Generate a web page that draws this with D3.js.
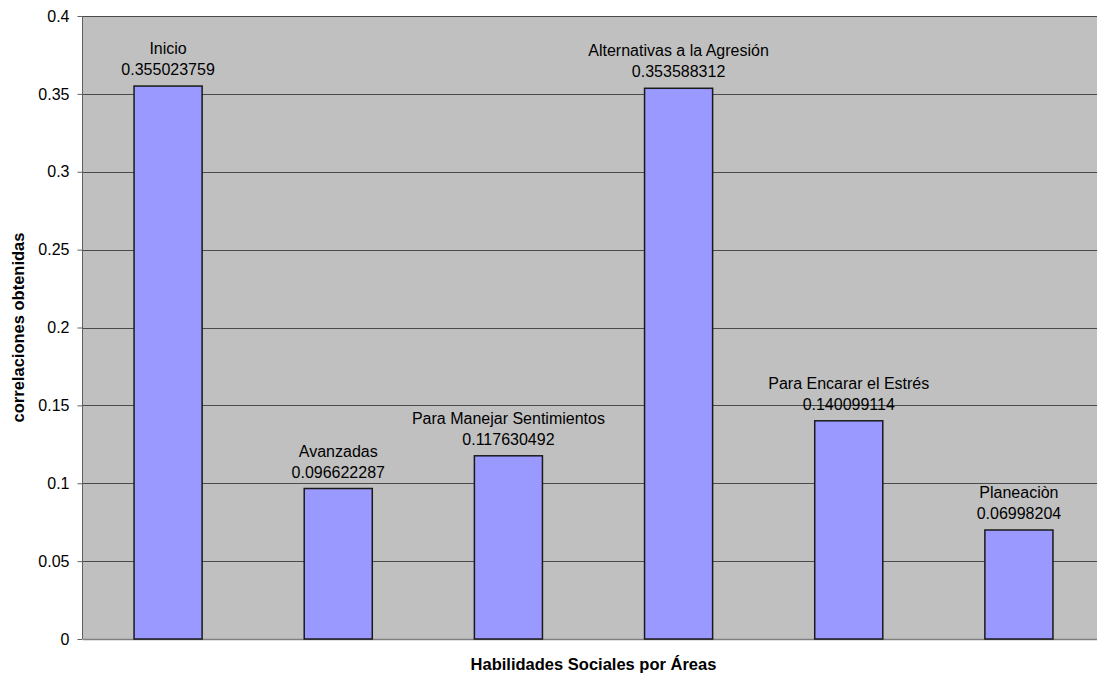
<!DOCTYPE html>
<html>
<head>
<meta charset="utf-8">
<script src="https://cdn.jsdelivr.net/npm/d3@7"></script>
<style>
  html, body { margin: 0; padding: 0; background: #fff; }
  svg { display: block; font-family: "Liberation Sans", Arial, sans-serif; }
</style>
</head>
<body>
<svg id="chart" width="1097" height="677"></svg>
<script>
// Social-skills areas and their correlation values
const categories = [
  "Inicio",
  "Avanzadas",
  "Para Manejar Sentimientos",
  "Alternativas a la Agresión",
  "Para Encarar el Estrés",
  "Planeaciòn"
];
const values = [0.355023759, 0.096622287, 0.117630492, 0.353588312, 0.140099114, 0.06998204];
const valueLabels = ["0.355023759", "0.096622287", "0.117630492", "0.353588312", "0.140099114", "0.06998204"];
const yTicks = [0, 0.05, 0.1, 0.15, 0.2, 0.25, 0.3, 0.35, 0.4];
const yTickLabels = ["0", "0.05", "0.1", "0.15", "0.2", "0.25", "0.3", "0.35", "0.4"];
const xTitle = "Habilidades Sociales por Áreas";
const yTitle = "correlaciones obtenidas";

const svg = d3.select("#chart");
const plot = { left: 83, right: 1104, top: 16, bottom: 639 };

const x = d3.scaleBand()
  .domain(categories)
  .range([plot.left, plot.right])
  .paddingInner(0.6)
  .paddingOuter(0.3);

const y = d3.scaleLinear()
  .domain([0, 0.4])
  .range([plot.bottom, plot.top]);

// plot background
svg.append("rect")
  .attr("x", plot.left)
  .attr("y", plot.top)
  .attr("width", plot.right - plot.left)
  .attr("height", plot.bottom - plot.top)
  .attr("fill", "#c0c0c0");

// horizontal gridlines
svg.append("g")
  .selectAll("line")
  .data(yTicks.slice(1))
  .join("line")
  .attr("x1", plot.left)
  .attr("x2", plot.right)
  .attr("y1", d => Math.round(y(d)) + 0.5)
  .attr("y2", d => Math.round(y(d)) + 0.5)
  .attr("stroke", "#4a4a4a")
  .attr("stroke-width", 1);

// y axis
const yAxis = d3.axisLeft(y)
  .tickValues(yTicks)
  .tickFormat((d, i) => yTickLabels[i])
  .tickSize(5)
  .tickPadding(8);

const gy = svg.append("g")
  .attr("transform", `translate(${plot.left - 0.5},0)`)
  .call(yAxis);
gy.select(".domain").attr("stroke", "#606060").attr("d", `M0,${plot.top}V${plot.bottom}`);
gy.selectAll(".tick line").attr("stroke", "#606060");
gy.selectAll(".tick text")
  .attr("fill", "#000")
  .style("font-size", "16px")
  .style("font-family", "'Liberation Sans', Arial, sans-serif");

// x axis baseline
svg.append("line")
  .attr("x1", plot.left)
  .attr("x2", plot.right)
  .attr("y1", plot.bottom + 0.5)
  .attr("y2", plot.bottom + 0.5)
  .attr("stroke", "#808080")
  .attr("stroke-width", 1.5);

// bars
svg.append("g")
  .selectAll("rect")
  .data(categories)
  .join("rect")
  .attr("x", d => x(d))
  .attr("y", (d, i) => y(values[i]))
  .attr("width", x.bandwidth())
  .attr("height", (d, i) => y(0) - y(values[i]))
  .attr("fill", "#9999ff")
  .attr("stroke", "#1a1a1a")
  .attr("stroke-width", 1.5);

// data labels: category name above value
const labels = svg.append("g")
  .attr("text-anchor", "middle")
  .style("font-size", "16px")
  .attr("fill", "#000");

labels.selectAll("text.name")
  .data(categories)
  .join("text")
  .attr("class", "name")
  .attr("x", d => x(d) + x.bandwidth() / 2)
  .attr("y", (d, i) => y(values[i]) - 32)
  .text(d => d);

labels.selectAll("text.val")
  .data(categories)
  .join("text")
  .attr("class", "val")
  .attr("x", d => x(d) + x.bandwidth() / 2)
  .attr("y", (d, i) => y(values[i]) - 11)
  .text((d, i) => valueLabels[i]);

// axis titles
svg.append("text")
  .attr("x", (plot.left + plot.right) / 2)
  .attr("y", 670)
  .attr("text-anchor", "middle")
  .style("font-size", "16.5px")
  .style("font-weight", "bold")
  .text(xTitle);

svg.append("text")
  .attr("transform", `translate(24,${(plot.top + plot.bottom) / 2}) rotate(-90)`)
  .attr("text-anchor", "middle")
  .style("font-size", "16.5px")
  .style("font-weight", "bold")
  .text(yTitle);
</script>
</body>
</html>
